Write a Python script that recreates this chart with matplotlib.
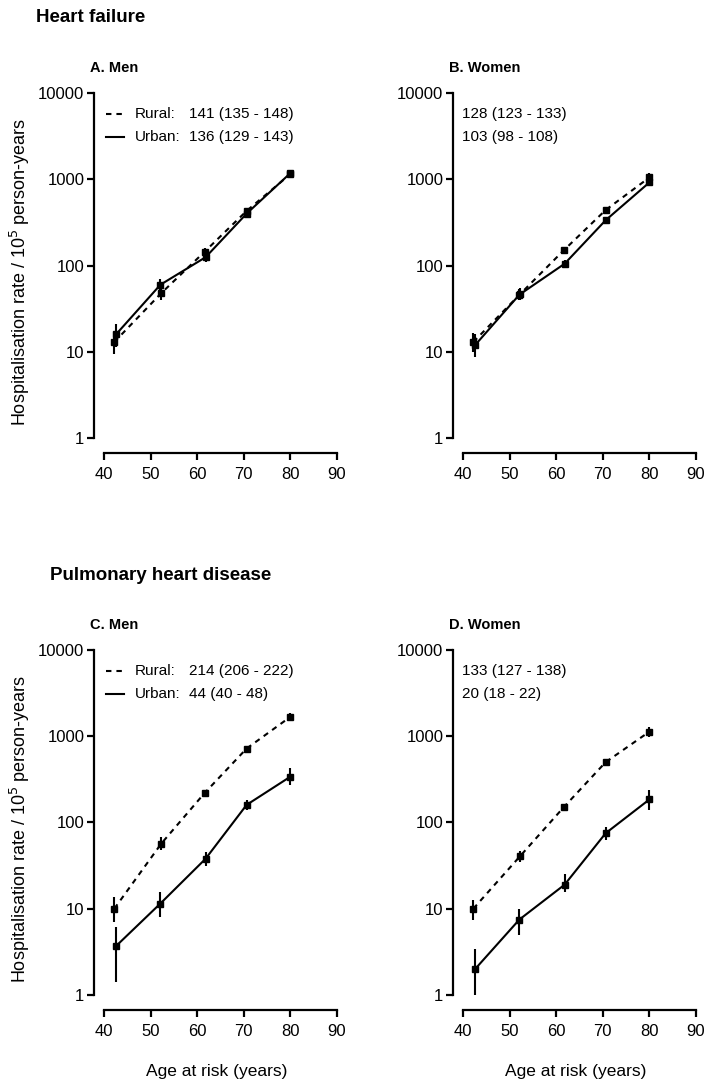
import matplotlib.pyplot as plt
import numpy as np

plt.rcParams['font.family'] = ['Liberation Sans', 'DejaVu Sans']

# ages at risk (rural / urban points are slightly staggered)
age_rural = [42.2, 52.3, 61.6, 70.6, 80.0]
age_urban = [42.6, 52.1, 61.8, 70.6, 80.0]

# A. heart failure, men
hf_men_rural = [13, 48, 145, 430, 1150]
hf_men_rural_lo = [9.5, 40, 130, 400, 1050]
hf_men_rural_hi = [17, 57, 160, 460, 1260]
hf_men_urban = [16, 60, 125, 400, 1180]
hf_men_urban_lo = [11.5, 50, 110, 370, 1080]
hf_men_urban_hi = [21, 70, 140, 430, 1290]

# B. heart failure, women
hf_women_rural = [13, 47, 150, 440, 1050]
hf_women_rural_lo = [10, 40, 135, 410, 940]
hf_women_rural_hi = [16.5, 55, 165, 470, 1170]
hf_women_urban = [12, 46, 105, 335, 920]
hf_women_urban_lo = [8.8, 40, 95, 315, 840]
hf_women_urban_hi = [16, 53, 115, 355, 1010]

# C. pulmonary heart disease, men
phd_men_rural = [10, 57, 220, 720, 1680]
phd_men_rural_lo = [7, 48, 200, 670, 1500]
phd_men_rural_hi = [13.5, 67, 240, 770, 1880]
phd_men_urban = [3.7, 11.5, 38, 160, 340]
phd_men_urban_lo = [1.4, 8, 31, 140, 275]
phd_men_urban_hi = [6.1, 15.5, 46, 180, 430]

# D. pulmonary heart disease, women
phd_women_rural = [10, 41, 150, 500, 1130]
phd_women_rural_lo = [7.5, 35, 135, 465, 990]
phd_women_rural_hi = [12.5, 47, 165, 535, 1280]
phd_women_urban = [2.0, 7.5, 19, 75, 185]
phd_women_urban_lo = [1.0, 5.0, 15.5, 63, 140]
phd_women_urban_hi = [3.4, 10, 25, 88, 235]

panel_titles = ['A. Men', 'B. Women', 'C. Men', 'D. Women']
rate_rural = ['141 (135 - 148)', '128 (123 - 133)', '214 (206 - 222)', '133 (127 - 138)']
rate_urban = ['136 (129 - 143)', '103 (98 - 108)', '44 (40 - 48)', '20 (18 - 22)']
section_titles = ['Heart failure', 'Pulmonary heart disease']
y_ticks = [1, 10, 100, 1000, 10000]
x_ticks = [40, 50, 60, 70, 80, 90]

panels = [
    (hf_men_rural, hf_men_rural_lo, hf_men_rural_hi, hf_men_urban, hf_men_urban_lo, hf_men_urban_hi),
    (hf_women_rural, hf_women_rural_lo, hf_women_rural_hi, hf_women_urban, hf_women_urban_lo, hf_women_urban_hi),
    (phd_men_rural, phd_men_rural_lo, phd_men_rural_hi, phd_men_urban, phd_men_urban_lo, phd_men_urban_hi),
    (phd_women_rural, phd_women_rural_lo, phd_women_rural_hi, phd_women_urban, phd_women_urban_lo, phd_women_urban_hi),
]

W, H = 712, 1083
fig = plt.figure(figsize=(W / 100, H / 100), dpi=100)

# axes boxes in pixels: left, top, width, height
ax_w = 245.8
boxes = [(94, 90.4, ax_w, 362.8), (453, 90.4, ax_w, 362.8),
         (94, 647.4, ax_w, 362.6), (453, 647.4, ax_w, 362.6)]

lw = 1.5
for i, (box, data) in enumerate(zip(boxes, panels)):
    l, t, w, h = box
    ax = fig.add_axes([l / W, 1 - (t + h) / H, w / W, h / H])
    r, rlo, rhi, u, ulo, uhi = [np.array(d, dtype=float) for d in data]

    ax.errorbar(age_rural, r, yerr=[r - rlo, rhi - r], fmt='s', ls=(0, (2.6, 2.4)),
                color='black', lw=lw, ms=4, elinewidth=lw, capsize=0)
    ax.errorbar(age_urban, u, yerr=[u - ulo, uhi - u], fmt='s', ls='-',
                color='black', lw=lw, ms=4, elinewidth=lw, capsize=0)

    ax.set_yscale('log')
    ax.set_xlim(37.85, 90.6)
    ax.set_ylim(10 ** -0.174, 10 ** 4.03)
    ax.set_yticks(y_ticks)
    ax.set_yticklabels([str(v) for v in y_ticks])
    ax.yaxis.set_minor_locator(plt.NullLocator())
    ax.set_xticks(x_ticks)
    ax.set_xticklabels([str(v) for v in x_ticks])

    for s in ['top', 'right']:
        ax.spines[s].set_visible(False)
    ax.spines['left'].set_bounds(1, 10000)
    ax.spines['bottom'].set_bounds(40, 90)
    ax.spines['left'].set_linewidth(1.6)
    ax.spines['bottom'].set_linewidth(1.6)
    ax.tick_params(axis='both', length=5, width=1.6, labelsize=12, pad=2, colors='black')
    ax.tick_params(axis='x', pad=5)

    ax.text(-4 / w, 1 + 22 / h, panel_titles[i], transform=ax.transAxes,
            fontsize=10.5, fontweight='bold', va='center', ha='left')

    row1 = 1 - 24 / h
    row2 = 1 - 47 / h
    if i % 2 == 0:
        ax.plot([12 / w, 30 / w], [row1, row1], transform=ax.transAxes, color='black',
                lw=lw, ls=(0, (2.6, 2.4)), clip_on=False)
        ax.plot([12 / w, 30 / w], [row2, row2], transform=ax.transAxes, color='black',
                lw=lw, clip_on=False)
        ax.text(41 / w, row1, 'Rural:', transform=ax.transAxes, fontsize=11, va='center')
        ax.text(41 / w, row2, 'Urban:', transform=ax.transAxes, fontsize=11, va='center')
        ax.text(95 / w, row1, rate_rural[i], transform=ax.transAxes, fontsize=11, va='center')
        ax.text(95 / w, row2, rate_urban[i], transform=ax.transAxes, fontsize=11, va='center')
        ax.set_ylabel('Hospitalisation rate / 10$^5$ person-years', fontsize=13, labelpad=4)
    else:
        ax.text(9 / w, row1, rate_rural[i], transform=ax.transAxes, fontsize=11, va='center')
        ax.text(9 / w, row2, rate_urban[i], transform=ax.transAxes, fontsize=11, va='center')

    if i >= 2:
        ax.set_xlabel('Age at risk (years)', fontsize=12.5, labelpad=18)

fig.text(36 / W, 1 - 18 / H, section_titles[0], fontsize=13.5, fontweight='bold', va='center')
fig.text(50 / W, 1 - 575 / H, section_titles[1], fontsize=13.5, fontweight='bold', va='center')

fig.savefig('out.png', dpi=100)
